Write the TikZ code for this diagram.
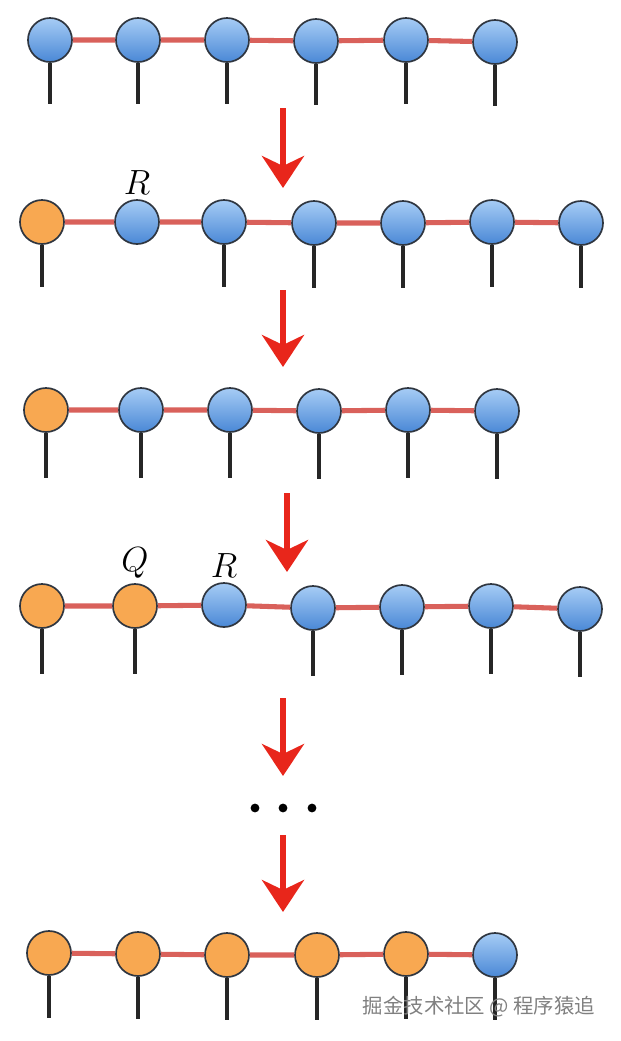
\documentclass[tikz,border=0pt]{standalone}
\usepackage{fontspec}
\newfontfamily\cjk{Noto Sans CJK SC}
\usetikzlibrary{arrows.meta,positioning}

\definecolor{siteedge}{HTML}{2F3640}
\definecolor{bluetop}{HTML}{A6CCF5}
\definecolor{bluebot}{HTML}{4A88D6}
\definecolor{siteorange}{HTML}{F8A851}
\definecolor{bondred}{HTML}{D9615B}
\definecolor{arrowred}{HTML}{E8261B}

\begin{document}
\begin{tikzpicture}[
  x=0.025cm, y=-0.025cm,
  site/.style={circle, draw=siteedge, line width=1.2pt, minimum size=1.1cm, inner sep=0pt},
  bsite/.style={site, top color=bluetop, bottom color=bluebot},
  osite/.style={site, fill=siteorange},
  bond/.style={draw=bondred, line width=3.6pt},
  leg/.style={draw=black!85, line width=2.2pt},
  label/.style={font=\fontsize{26}{30}\selectfont, inner sep=1pt},
  down/.style={-{Stealth[length=0.8cm, width=1.05cm, inset=0.25cm]}, draw=arrowred, line width=4.6pt},
  dot/.style={circle, fill=black, minimum size=0.22cm, inner sep=0pt},
]
  \useasboundingbox (0,0) rectangle (620,1041);

  % first chain
  \node[bsite] (a1) at (50,40) {};
  \node[bsite] (a2) at (138,40) {};
  \node[bsite] (a3) at (227,40) {};
  \node[bsite] (a4) at (316,41) {};
  \node[bsite] (a5) at (406,40) {};
  \node[bsite] (a6) at (495,42) {};
  \draw[bond] (a1) -- (a2) (a2) -- (a3) (a3) -- (a4) (a4) -- (a5) (a5) -- (a6);
  \draw[leg] (a1.south) -- ++(0,41) (a2.south) -- ++(0,41) (a3.south) -- ++(0,41)
    (a4.south) -- ++(0,41) (a5.south) -- ++(0,41) (a6.south) -- ++(0,41);

  % second chain
  \node[osite] (b1) at (42,222) {};
  \node[bsite] (b2) at (137,222) {};
  \node[bsite] (b3) at (224,222) {};
  \node[bsite] (b4) at (314,223) {};
  \node[bsite] (b5) at (403,223) {};
  \node[bsite] (b6) at (492,222) {};
  \node[bsite] (b7) at (581,223) {};
  \node[label, above=2pt of b2] (rb) {$R$};
  \draw[bond] (b1) -- (b2) (b2) -- (b3) (b3) -- (b4) (b4) -- (b5) (b5) -- (b6) (b6) -- (b7);
  \draw[leg] (b1.south) -- ++(0,42) (b3.south) -- ++(0,42) (b4.south) -- ++(0,42)
    (b5.south) -- ++(0,42) (b6.south) -- ++(0,42) (b7.south) -- ++(0,42);

  % third chain
  \node[osite] (c1) at (46,410) {};
  \node[bsite] (c2) at (141,410) {};
  \node[bsite] (c3) at (230,410) {};
  \node[bsite] (c4) at (319,411) {};
  \node[bsite] (c5) at (408,410) {};
  \node[bsite] (c6) at (497,411) {};
  \draw[bond] (c1) -- (c2) (c2) -- (c3) (c3) -- (c4) (c4) -- (c5) (c5) -- (c6);
  \draw[leg] (c1.south) -- ++(0,45) (c2.south) -- ++(0,45) (c3.south) -- ++(0,45)
    (c4.south) -- ++(0,45) (c5.south) -- ++(0,45) (c6.south) -- ++(0,45);

  % fourth chain
  \node[osite] (d1) at (42,606) {};
  \node[osite] (d2) at (135,606) {};
  \node[bsite] (d3) at (224,605) {};
  \node[bsite] (d4) at (313,608) {};
  \node[bsite] (d5) at (402,607) {};
  \node[bsite] (d6) at (491,606) {};
  \node[bsite] (d7) at (580,609) {};
  \node[label, above=2pt of d2] (qd) {$Q$};
  \node[label, above=2pt of d3] (rd) {$R$};
  \draw[bond] (d1) -- (d2) (d2) -- (d3) (d3) -- (d4) (d4) -- (d5) (d5) -- (d6) (d6) -- (d7);
  \draw[leg] (d1.south) -- ++(0,45) (d2.south) -- ++(0,45) (d4.south) -- ++(0,45)
    (d5.south) -- ++(0,45) (d6.south) -- ++(0,45) (d7.south) -- ++(0,45);

  % last chain
  \node[osite] (e1) at (49,953) {};
  \node[osite] (e2) at (138,954) {};
  \node[osite] (e3) at (227,955) {};
  \node[osite] (e4) at (317,955) {};
  \node[osite] (e5) at (406,954) {};
  \node[bsite] (e6) at (495,955) {};
  \draw[bond] (e1) -- (e2) (e2) -- (e3) (e3) -- (e4) (e4) -- (e5) (e5) -- (e6);
  \draw[leg] (e1.south) -- ++(0,42) (e2.south) -- ++(0,42) (e3.south) -- ++(0,42)
    (e4.south) -- ++(0,42) (e5.south) -- ++(0,42) (e6.south) -- ++(0,42);

  % arrows between steps
  \coordinate (s1) at (283,108); \coordinate (t1) at (283,188);
  \coordinate (s2) at (283,290); \coordinate (t2) at (283,367);
  \coordinate (s3) at (287,493); \coordinate (t3) at (287,572);
  \coordinate (s4) at (283,698); \coordinate (t4) at (283,776);
  \coordinate (s5) at (283,835); \coordinate (t5) at (283,912);
  \draw[down] (s1) -- (t1);
  \draw[down] (s2) -- (t2);
  \draw[down] (s3) -- (t3);
  \draw[down] (s4) -- (t4);
  \draw[down] (s5) -- (t5);

  \node[dot] (dot1) at (255,808) {};
  \node[dot] (dot2) at (283,808) {};
  \node[dot] (dot3) at (312,808) {};

  \node[text=black!50, font=\cjk\fontsize{14.5}{17}\selectfont] (mark) at (479,1007) {掘金技术社区 @ 程序猿追};
\end{tikzpicture}
\end{document}
